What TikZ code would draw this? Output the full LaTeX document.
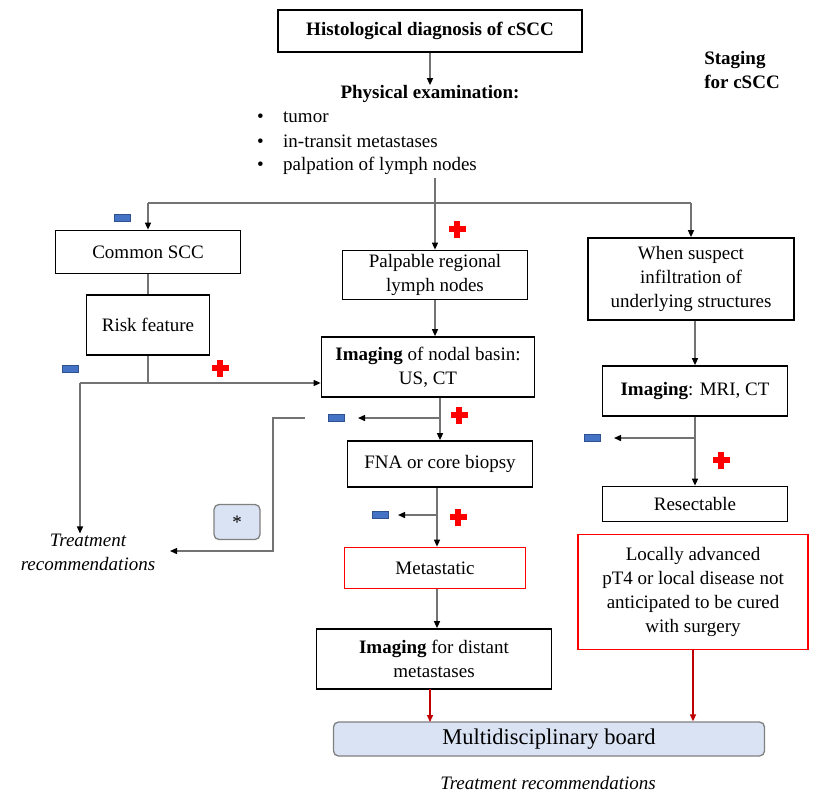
\documentclass[tikz,border=0pt]{standalone}
\usepackage{fontspec}
\setmainfont{Liberation Serif}
\usetikzlibrary{arrows.meta}
\definecolor{minusblue}{HTML}{4472C4}
\definecolor{minusedge}{HTML}{2F528F}
\definecolor{boardfill}{HTML}{DAE3F3}
\definecolor{darkred}{HTML}{C00000}
\tikzset{
  box/.style={draw=black, line width=1.7pt, inner sep=2pt, align=center, font=\fontsize{19}{24}\selectfont},
  redbox/.style={box, draw=red},
  txt/.style={inner sep=0pt, align=center, font=\fontsize{19}{24}\selectfont},
  conn/.style={draw=black!55, line width=1.4pt, -{Triangle[black,length=7pt,width=6pt]}},
  plainconn/.style={draw=black!55, line width=1.4pt},
  redconn/.style={draw=darkred, line width=1.4pt, -{Triangle[darkred,length=7pt,width=6pt]}},
  minussign/.style={rectangle, fill=minusblue, draw=minusedge, line width=0.6pt, minimum width=16pt, minimum height=7pt, inner sep=0pt},
  pics/plussign/.style={code={
    \fill[red] (-8.5,-2.6) rectangle (8.5,2.6);
    \fill[red] (-2.6,-8.5) rectangle (2.6,8.5);}},
}
\begin{document}
\begin{tikzpicture}[x=1pt,y=-1pt]
\useasboundingbox (0,0) rectangle (829,796);
\fill[white] (0,0) rectangle (829,796);

% nodes
\node[box, minimum width=304pt, minimum height=42pt] (hist) at (430,31) {\textbf{Histological diagnosis of cSCC}};
\node[txt] (phys) at (430,94) {\textbf{Physical examination:}};
\node[txt, anchor=west] (b1) at (257,117) {\makebox[26pt][l]{\textbullet}tumor};
\node[txt, anchor=west] (b2) at (257,141) {\makebox[26pt][l]{\textbullet}in-transit metastases};
\node[txt, anchor=west] (b3) at (257,166) {\makebox[26pt][l]{\textbullet}palpation of lymph nodes};
\node[txt, align=left] (staging) at (742,70) {\textbf{Staging}\\\textbf{for cSCC}};

\node[box, minimum width=185pt, minimum height=43pt] (common) at (148,252) {Common SCC};
\node[box, minimum width=123pt, minimum height=60pt] (risk) at (148,325) {Risk feature};
\node[txt] (treatL) at (88,552) {\itshape Treatment\\\itshape recommendations};

\node[box, minimum width=185pt, minimum height=49pt] (palp) at (435,275) {Palpable regional\\lymph nodes};
\node[box, minimum width=213pt, minimum height=60pt] (imgnodal) at (428,367) {\textbf{Imaging} of nodal basin:\\US, CT};
\node[box, minimum width=185pt, minimum height=46pt] (fna) at (440,464) {FNA or core biopsy};
\node[redbox, minimum width=181pt, minimum height=41pt] (meta) at (435,568) {Metastatic};
\node[box, minimum width=235pt, minimum height=60pt] (imgdist) at (434,659) {\textbf{Imaging} for distant\\metastases};

\node[box, minimum width=206pt, minimum height=82pt] (suspect) at (691,279) {When suspect\\infiltration of\\underlying structures};
\node[box, minimum width=185pt, minimum height=50pt] (imgmri) at (695,391) {\textbf{Imaging}: MRI, CT};
\node[box, minimum width=185pt, minimum height=35pt] (resect) at (695,504) {Resectable};
\node[redbox, minimum width=230pt, minimum height=115pt] (locally) at (693,592) {Locally advanced\\pT4 or local disease not\\anticipated to be cured\\with surgery};

\node[draw=black!50, line width=1.3pt, fill=boardfill, rounded corners=5pt, minimum width=431pt, minimum height=34pt, inner sep=0pt, font=\fontsize{22.5}{26}\selectfont] (board) at (549,739) {Multidisciplinary board};
\node[txt] (treatB) at (548,783) {\itshape Treatment recommendations};
\node[draw=black!50, line width=1.3pt, fill=boardfill, rounded corners=5pt, minimum width=46pt, minimum height=35pt, inner sep=0pt, font=\fontsize{19}{22}\selectfont] (star) at (237,522) {*};

% coordinates
\coordinate (j0) at (435,178);
\coordinate (jl) at (148,203);
\coordinate (jr) at (691,203);
\coordinate (r1) at (148,383);
\coordinate (r0) at (80,383);
\coordinate (n1) at (440,418);
\coordinate (n1e) at (358,418);
\coordinate (s0) at (305,418);
\coordinate (s1) at (273,418);
\coordinate (s2) at (273,551);
\coordinate (s3) at (170,551);
\coordinate (f1) at (437,515);
\coordinate (f1e) at (398,515);
\coordinate (m1) at (695,438);
\coordinate (m1e) at (614,438);

% connectors
\draw[conn] (hist.south) -- (phys.north);
\draw[conn] (j0) -- (palp.north -| j0);
\draw[plainconn] (jl) -- (jr);
\draw[conn] (jl) -- (common.north);
\draw[conn] (jr) -- (suspect.north);
\draw[plainconn] (common.south) -- (risk.north);
\draw[plainconn] (risk.south) -- (r1);
\draw[conn] (r0) -- (r0 -| imgnodal.west);
\draw[conn] (r0) -- (treatL.north -| r0);
\draw[conn] (palp.south) -- (palp.south |- imgnodal.north);
\draw[conn] (imgnodal.south -| n1) -- (fna.north -| n1);
\draw[conn] (n1) -- (n1e);
\draw[conn] (s0) -- (s1) -- (s2) -- (s3);
\draw[conn] (fna.south -| f1) -- (meta.north -| f1);
\draw[conn] (f1) -- (f1e);
\draw[conn] (meta.south -| f1) -- (imgdist.north -| f1);
\draw[redconn] (430,689) -- (430,722);
\draw[conn] (suspect.south -| imgmri.north) -- (imgmri.north);
\draw[conn] (imgmri.south) -- (resect.north);
\draw[conn] (m1) -- (m1e);
\draw[redconn] (locally.south) -- (locally.south |- board.north);

% signs
\node[minussign] (mA) at (122,218) {};
\pic at (457,229) {plussign};
\node[minussign] (mB) at (70,369) {};
\pic at (220,368) {plussign};
\node[minussign] (mC) at (336,418) {};
\pic at (459,415) {plussign};
\node[minussign] (mD) at (380,515) {};
\pic at (458,517) {plussign};
\node[minussign] (mE) at (592,438) {};
\pic at (721,460) {plussign};
\end{tikzpicture}
\end{document}
